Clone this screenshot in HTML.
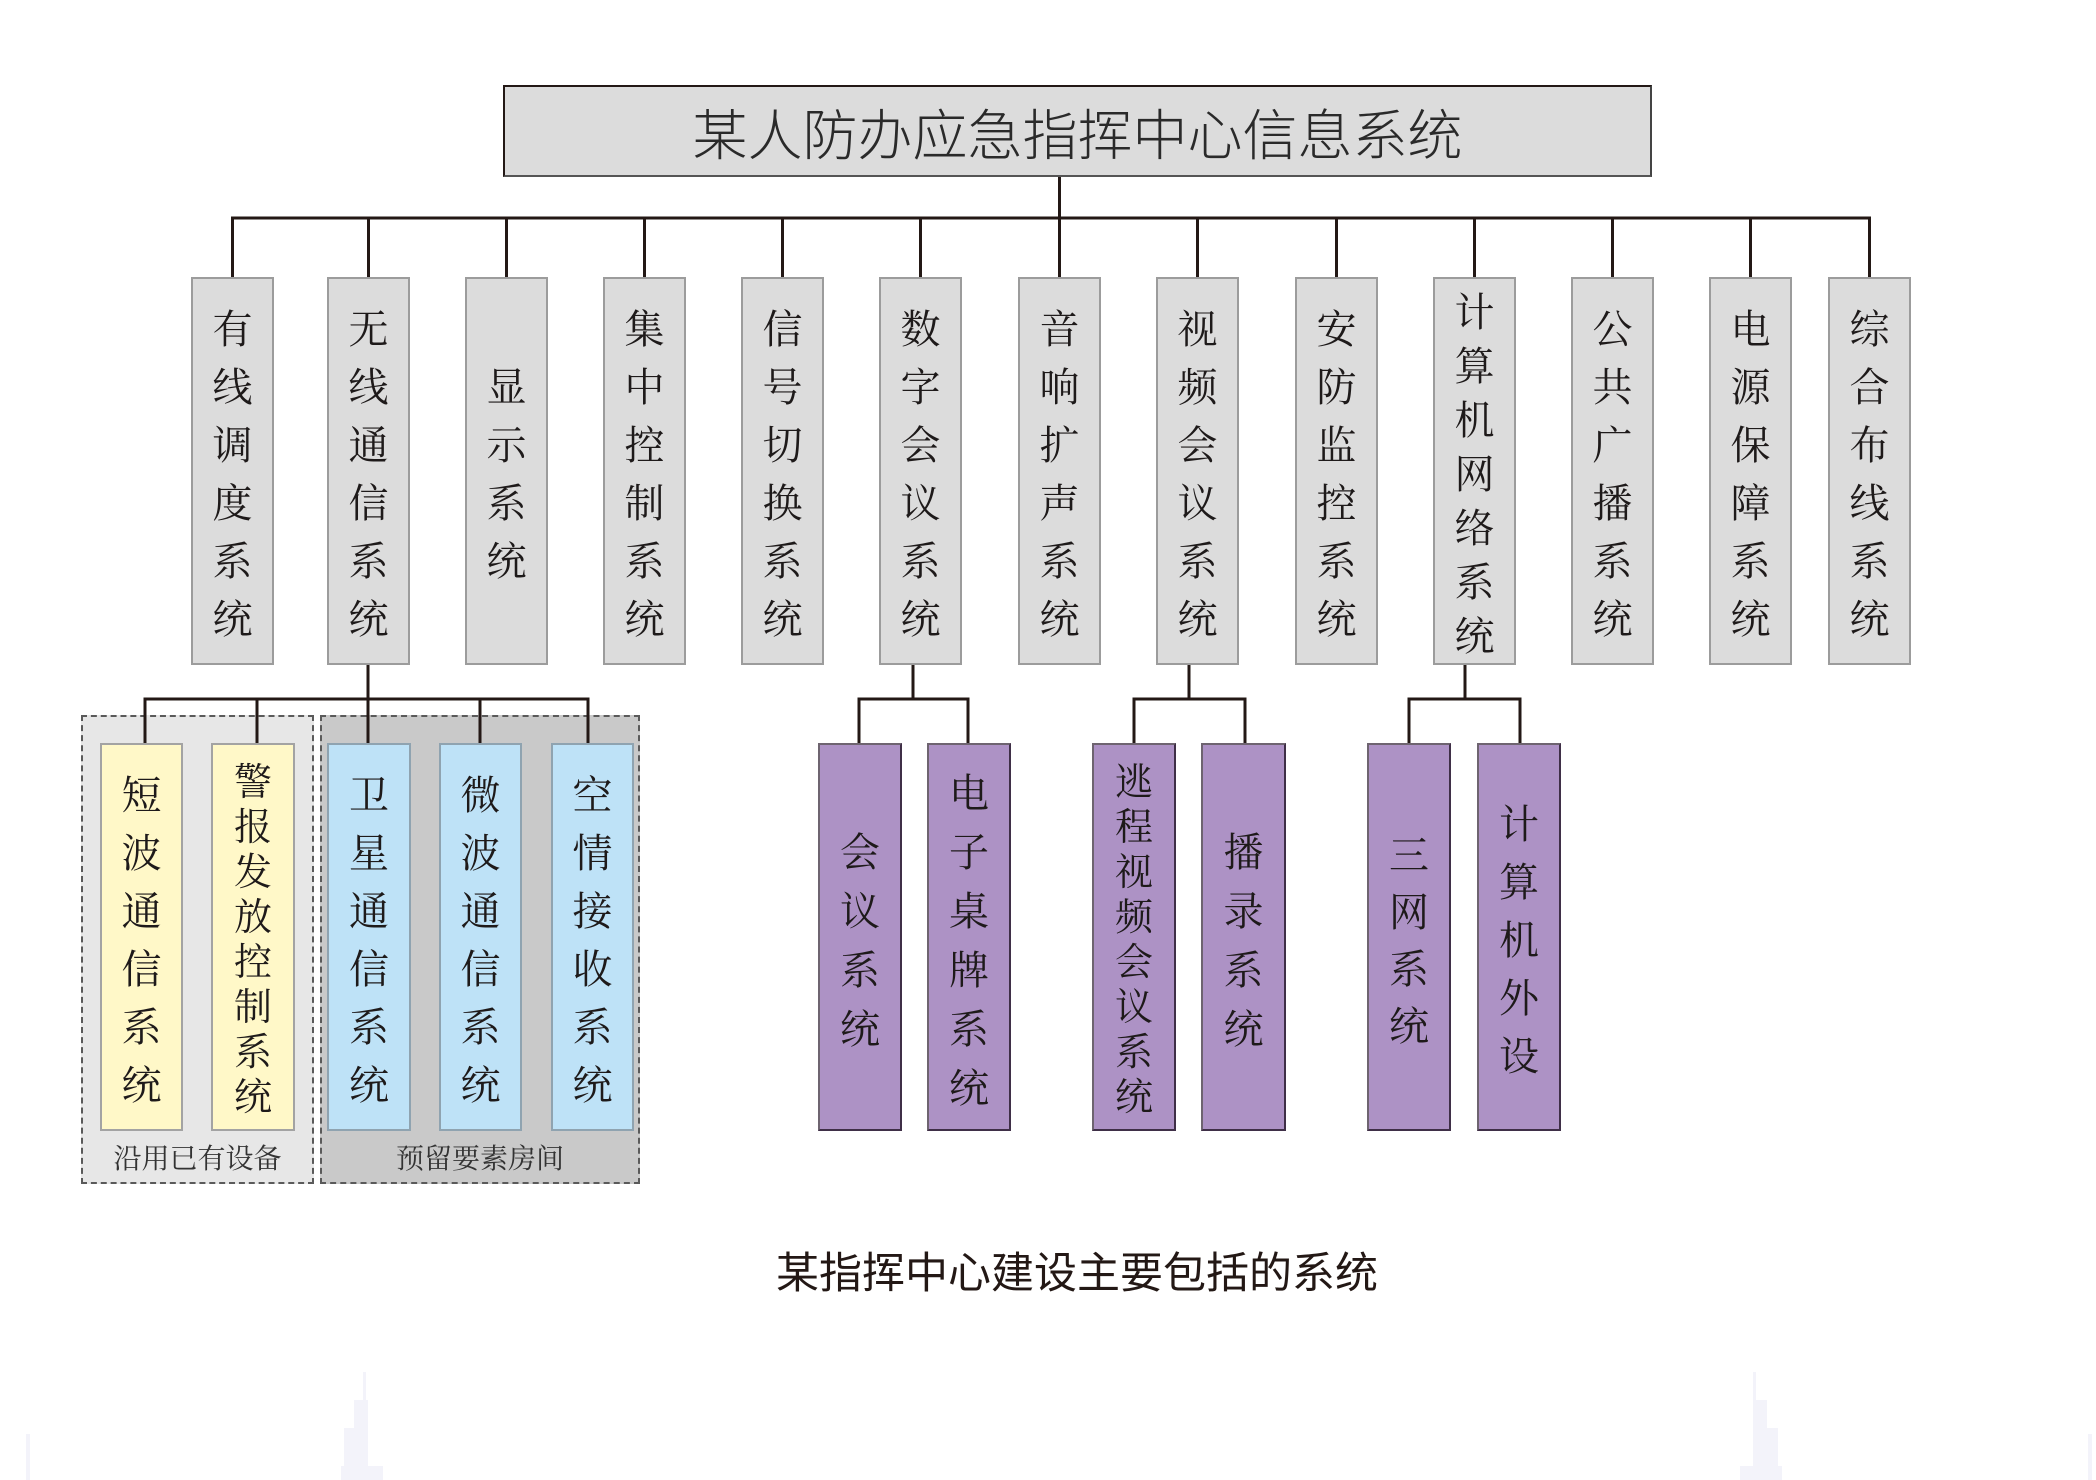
<!DOCTYPE html>
<html>
<head>
<meta charset="utf-8">
<style>
  html,body{margin:0;padding:0;background:#fff;}
  body{width:2096px;height:1480px;position:relative;overflow:hidden;}
  .abs{position:absolute;box-sizing:border-box;}
  .title{left:503px;top:85px;width:1149px;height:92px;background:#dcdcdc;
    border:2px solid #231815;border-bottom-color:#555;border-right-color:#444;
    display:flex;align-items:center;justify-content:center;
    font-family:"Liberation Sans","Noto Sans CJK SC",sans-serif;font-size:55px;color:#2a2a2a;font-weight:300;letter-spacing:0px;}
  .vb{display:flex;flex-direction:column;align-items:center;justify-content:center;padding-top:8px;
    font-family:"Liberation Serif","Noto Serif CJK SC",serif;color:#1e1a1a;}
  .vb span{display:block;text-align:center;width:100%;}
  .g{background:#dcdcdc;border:2px solid #9c9c9c;}
  .y{background:#fff8c8;border:2px solid #a3a3a3;}
  .b{background:#bee2f7;border:2px solid #8fa3b0;}
  .p{background:#ad92c5;border:2px solid #3f2f47;border-left-color:#6e6470;border-top-color:#6e6470;}
  .grp{border:2px dashed #5a5a5a;}
  .lbl{font-family:"Liberation Serif","Noto Serif CJK SC",serif;font-size:28px;color:#333;text-align:center;}
  .cap{font-family:"Liberation Sans","Noto Sans CJK SC",sans-serif;font-size:43px;color:#231815;text-align:center;}
</style>
</head>
<body>

<!-- dashed groups -->
<div class="abs grp" style="left:81px;top:715px;width:233px;height:469px;background:#e7e7e7;"></div>
<div class="abs grp" style="left:320px;top:715px;width:320px;height:469px;background:#c9c9c9;"></div>
<div class="abs lbl" style="left:81px;top:1140px;width:233px;height:40px;line-height:40px;">沿用已有设备</div>
<div class="abs lbl" style="left:320px;top:1140px;width:320px;height:40px;line-height:40px;">预留要素房间</div>

<!-- connectors -->
<svg class="abs" style="left:0;top:0;" width="2096" height="1480" viewBox="0 0 2096 1480">
  <g stroke="#231815" stroke-width="3" fill="none" stroke-linecap="square">
    <line x1="1059.5" y1="177" x2="1059.5" y2="218"/>
    <line x1="232.5" y1="218" x2="1869.5" y2="218"/>
    <line x1="232.5" y1="218" x2="232.5" y2="277"/>
    <line x1="368.5" y1="218" x2="368.5" y2="277"/>
    <line x1="506.5" y1="218" x2="506.5" y2="277"/>
    <line x1="644.5" y1="218" x2="644.5" y2="277"/>
    <line x1="782.5" y1="218" x2="782.5" y2="277"/>
    <line x1="920.5" y1="218" x2="920.5" y2="277"/>
    <line x1="1059.5" y1="218" x2="1059.5" y2="277"/>
    <line x1="1197.5" y1="218" x2="1197.5" y2="277"/>
    <line x1="1336.5" y1="218" x2="1336.5" y2="277"/>
    <line x1="1474.5" y1="218" x2="1474.5" y2="277"/>
    <line x1="1612.5" y1="218" x2="1612.5" y2="277"/>
    <line x1="1750.5" y1="218" x2="1750.5" y2="277"/>
    <line x1="1869.5" y1="218" x2="1869.5" y2="277"/>
    <!-- wireless sub -->
    <line x1="368" y1="665" x2="368" y2="699"/>
    <line x1="145" y1="699" x2="588" y2="699"/>
    <line x1="145" y1="699" x2="145" y2="743"/>
    <line x1="257" y1="699" x2="257" y2="743"/>
    <line x1="368" y1="699" x2="368" y2="743"/>
    <line x1="480" y1="699" x2="480" y2="743"/>
    <line x1="588" y1="699" x2="588" y2="743"/>
    <!-- digital conf sub -->
    <line x1="913" y1="665" x2="913" y2="699"/>
    <line x1="859" y1="699" x2="968" y2="699"/>
    <line x1="859" y1="699" x2="859" y2="743"/>
    <line x1="968" y1="699" x2="968" y2="743"/>
    <!-- video conf sub -->
    <line x1="1189" y1="665" x2="1189" y2="699"/>
    <line x1="1134" y1="699" x2="1245" y2="699"/>
    <line x1="1134" y1="699" x2="1134" y2="743"/>
    <line x1="1245" y1="699" x2="1245" y2="743"/>
    <!-- computer net sub -->
    <line x1="1465" y1="665" x2="1465" y2="699"/>
    <line x1="1409" y1="699" x2="1520" y2="699"/>
    <line x1="1409" y1="699" x2="1409" y2="743"/>
    <line x1="1520" y1="699" x2="1520" y2="743"/>
  </g>
  <!-- faint bottom decorations -->
  <g fill="#f3f3fa">
    <rect x="26" y="1434" width="4" height="46"/>
    <rect x="363" y="1372" width="3" height="40"/>
    <rect x="354" y="1400" width="14" height="40"/>
    <rect x="344" y="1428" width="24" height="40"/>
    <rect x="341" y="1466" width="42" height="14"/>
    <rect x="1753" y="1372" width="3" height="40"/>
    <rect x="1753" y="1400" width="14" height="40"/>
    <rect x="1753" y="1428" width="25" height="40"/>
    <rect x="1740" y="1466" width="42" height="14"/>
    <rect x="2088" y="1434" width="4" height="46"/>
  </g>
</svg>

<!-- title -->
<div class="abs title">某人防办应急指挥中心信息系统</div>

<!-- top level boxes (y 277-665) -->
<div class="abs vb g" style="left:191px;top:277px;width:83px;height:388px;font-size:40px;line-height:58px;"><span>有</span><span>线</span><span>调</span><span>度</span><span>系</span><span>统</span></div>
<div class="abs vb g" style="left:327px;top:277px;width:83px;height:388px;font-size:40px;line-height:58px;"><span>无</span><span>线</span><span>通</span><span>信</span><span>系</span><span>统</span></div>
<div class="abs vb g" style="left:465px;top:277px;width:83px;height:388px;font-size:40px;line-height:58px;"><span>显</span><span>示</span><span>系</span><span>统</span></div>
<div class="abs vb g" style="left:603px;top:277px;width:83px;height:388px;font-size:40px;line-height:58px;"><span>集</span><span>中</span><span>控</span><span>制</span><span>系</span><span>统</span></div>
<div class="abs vb g" style="left:741px;top:277px;width:83px;height:388px;font-size:40px;line-height:58px;"><span>信</span><span>号</span><span>切</span><span>换</span><span>系</span><span>统</span></div>
<div class="abs vb g" style="left:879px;top:277px;width:83px;height:388px;font-size:40px;line-height:58px;"><span>数</span><span>字</span><span>会</span><span>议</span><span>系</span><span>统</span></div>
<div class="abs vb g" style="left:1018px;top:277px;width:83px;height:388px;font-size:40px;line-height:58px;"><span>音</span><span>响</span><span>扩</span><span>声</span><span>系</span><span>统</span></div>
<div class="abs vb g" style="left:1156px;top:277px;width:83px;height:388px;font-size:40px;line-height:58px;"><span>视</span><span>频</span><span>会</span><span>议</span><span>系</span><span>统</span></div>
<div class="abs vb g" style="left:1295px;top:277px;width:83px;height:388px;font-size:40px;line-height:58px;"><span>安</span><span>防</span><span>监</span><span>控</span><span>系</span><span>统</span></div>
<div class="abs vb g" style="left:1433px;top:277px;width:83px;height:388px;font-size:40px;line-height:54px;"><span>计</span><span>算</span><span>机</span><span>网</span><span>络</span><span>系</span><span>统</span></div>
<div class="abs vb g" style="left:1571px;top:277px;width:83px;height:388px;font-size:40px;line-height:58px;"><span>公</span><span>共</span><span>广</span><span>播</span><span>系</span><span>统</span></div>
<div class="abs vb g" style="left:1709px;top:277px;width:83px;height:388px;font-size:40px;line-height:58px;"><span>电</span><span>源</span><span>保</span><span>障</span><span>系</span><span>统</span></div>
<div class="abs vb g" style="left:1828px;top:277px;width:83px;height:388px;font-size:40px;line-height:58px;"><span>综</span><span>合</span><span>布</span><span>线</span><span>系</span><span>统</span></div>

<!-- sub boxes (y 743-1131) -->
<div class="abs vb y" style="left:100px;top:743px;width:83px;height:388px;font-size:40px;line-height:58px;"><span>短</span><span>波</span><span>通</span><span>信</span><span>系</span><span>统</span></div>
<div class="abs vb y" style="left:211px;top:743px;width:84px;height:388px;font-size:38px;line-height:45px;"><span>警</span><span>报</span><span>发</span><span>放</span><span>控</span><span>制</span><span>系</span><span>统</span></div>
<div class="abs vb b" style="left:327px;top:743px;width:84px;height:388px;font-size:40px;line-height:58px;"><span>卫</span><span>星</span><span>通</span><span>信</span><span>系</span><span>统</span></div>
<div class="abs vb b" style="left:439px;top:743px;width:83px;height:388px;font-size:40px;line-height:58px;"><span>微</span><span>波</span><span>通</span><span>信</span><span>系</span><span>统</span></div>
<div class="abs vb b" style="left:551px;top:743px;width:83px;height:388px;font-size:40px;line-height:58px;"><span>空</span><span>情</span><span>接</span><span>收</span><span>系</span><span>统</span></div>

<div class="abs vb p" style="left:818px;top:743px;width:84px;height:388px;font-size:40px;line-height:59px;"><span>会</span><span>议</span><span>系</span><span>统</span></div>
<div class="abs vb p" style="left:927px;top:743px;width:84px;height:388px;font-size:40px;line-height:59px;"><span>电</span><span>子</span><span>桌</span><span>牌</span><span>系</span><span>统</span></div>
<div class="abs vb p" style="left:1092px;top:743px;width:84px;height:388px;font-size:38px;line-height:45px;"><span>逃</span><span>程</span><span>视</span><span>频</span><span>会</span><span>议</span><span>系</span><span>统</span></div>
<div class="abs vb p" style="left:1201px;top:743px;width:85px;height:388px;font-size:40px;line-height:59px;"><span>播</span><span>录</span><span>系</span><span>统</span></div>
<div class="abs vb p" style="left:1367px;top:743px;width:84px;height:388px;font-size:40px;line-height:57px;"><span>三</span><span>网</span><span>系</span><span>统</span></div>
<div class="abs vb p" style="left:1477px;top:743px;width:84px;height:388px;font-size:40px;line-height:58px;"><span>计</span><span>算</span><span>机</span><span>外</span><span>设</span></div>

<!-- caption -->
<div class="abs cap" style="left:677px;top:1248px;width:800px;height:52px;line-height:52px;">某指挥中心建设主要包括的系统</div>

</body>
</html>
